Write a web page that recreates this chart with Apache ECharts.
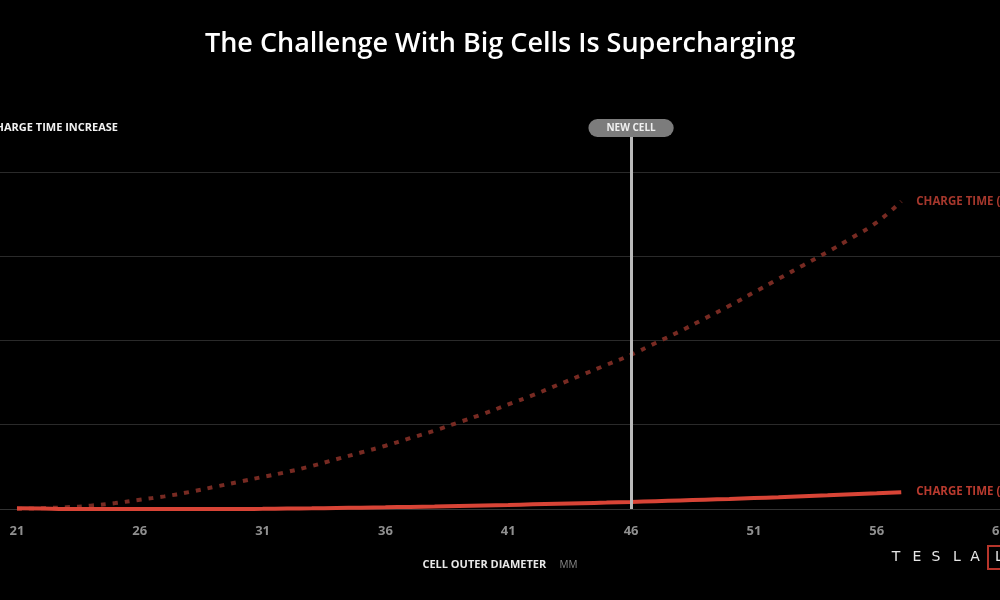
<!DOCTYPE html>
<html>
<head>
<meta charset="utf-8">
<script src="https://cdn.jsdelivr.net/npm/echarts@6/dist/echarts.min.js"></script>
<style>
html,body{margin:0;padding:0;background:#000;}
#chart{width:1000px;height:600px;}
</style>
</head>
<body>
<div id="chart"></div>
<script>
// Cell outer diameter (mm)
var diameters = [21,22,23,24,25,26,27,28,29,30,31,32,33,34,35,36,37,38,39,40,41,42,43,44,45,46,47,48,49,50,51,52,53,54,55,56,57];
// Charge time increase, dotted curve
var chargeTabbed = [0,0.01,0.02,0.04,0.07,0.11,0.15,0.20,0.26,0.32,0.38,0.44,0.51,0.59,0.67,0.75,0.84,0.93,1.03,1.13,1.24,1.35,1.47,1.59,1.71,1.83,1.97,2.11,2.26,2.41,2.57,2.73,2.89,3.05,3.22,3.40,3.65];
// Charge time increase, solid curve
var chargeTabless = [0.01,0.005,0,0,0,0,0,0,0,0,0.002,0.005,0.008,0.012,0.016,0.02,0.025,0.03,0.036,0.042,0.048,0.055,0.062,0.069,0.076,0.084,0.093,0.102,0.111,0.12,0.13,0.14,0.151,0.162,0.174,0.186,0.2];
// X tick labels
var xTicks = [21,26,31,36,41,46,51,56,61];
var newCellDiameter = 46;
var seriesNames = ['CHARGE TIME (TABBED)', 'CHARGE TIME (TABLESS)'];

function pairs(xs, ys){ return xs.map(function(x,i){ return [x, ys[i]]; }); }

var xMin = 21 - 17/24.6;
var xMax = 61.02;

var chart = echarts.init(document.getElementById('chart'), null, {renderer:'canvas'});
chart.setOption({
  backgroundColor: '#000',
  animation: false,
  title: {
    text: 'The Challenge With Big Cells Is Supercharging',
    left: 'center', top: 26,
    textStyle: {color:'#fff', fontSize:27, fontWeight:600, fontFamily:'Open Sans'}
  },
  grid: {left:0, right:0, top:137, bottom:91, containLabel:false, outerBoundsMode:'none'},
  xAxis: {
    type:'value', min:xMin, max:xMax,
    axisLine:{show:true, lineStyle:{color:'#333', width:1}},
    axisTick:{show:false},
    splitLine:{show:false},
    axisLabel:{
      customValues: xTicks,
      color:'#8f8f8f', fontSize:13, fontWeight:'bold', fontFamily:'Open Sans', margin:16
    },
    name:'{a|CELL OUTER DIAMETER}    {b|MM}',
    nameLocation:'middle', nameGap:50,
    nameTextStyle:{
      rich:{
        a:{color:'#e8e8e8', fontSize:11, fontWeight:'bold', fontFamily:'Open Sans'},
        b:{color:'#8a8a8a', fontSize:10, fontWeight:'normal', fontFamily:'Open Sans'}
      }
    }
  },
  yAxis: {
    type:'value', min:0, max:4.413, interval:1,
    axisLine:{show:false}, axisTick:{show:false}, axisLabel:{show:false},
    splitLine:{show:true, showMaxLine:false, lineStyle:{color:'#2a2a2a', width:1}}
  },
  graphic: [
    {type:'text', x:118, y:122, style:{text:'CHARGE TIME INCREASE', align:'right', fill:'#f2f2f2', font:'bold 11px "Open Sans"'}},
    {type:'text', x:896, y:550, style:{text:'T', align:'center', fill:'#e6e6e6', font:'14px "DejaVu Sans"'}},
    {type:'text', x:917, y:550, style:{text:'E', align:'center', fill:'#e6e6e6', font:'14px "DejaVu Sans"'}},
    {type:'text', x:936, y:550, style:{text:'S', align:'center', fill:'#e6e6e6', font:'14px "DejaVu Sans"'}},
    {type:'text', x:957, y:550, style:{text:'L', align:'center', fill:'#e6e6e6', font:'14px "DejaVu Sans"'}},
    {type:'text', x:975, y:550, style:{text:'A', align:'center', fill:'#e6e6e6', font:'14px "DejaVu Sans"'}},
    {type:'rect', shape:{x:988, y:546, width:30, height:23}, style:{fill:'none', stroke:'#b7352b', lineWidth:2}},
    {type:'text', x:995, y:550, style:{text:'L', fill:'#e6e6e6', font:'14px "DejaVu Sans"'}}
  ],
  series: [
    {
      name: seriesNames[0], type:'line', data: pairs(diameters, chargeTabbed),
      showSymbol:false, smooth:true, clip:false,
      lineStyle:{color:'#772a22', width:4, type:[5,7], cap:'butt'},
      endLabel:{show:true, formatter:seriesNames[0], color:'#a5372c', fontSize:11.5, fontWeight:'bold', fontFamily:'Open Sans', distance:15}
    },
    {
      name: seriesNames[1], type:'line', data: pairs(diameters, chargeTabless),
      showSymbol:false, smooth:true, clip:false,
      lineStyle:{color:'#d84436', width:4},
      endLabel:{show:true, formatter:seriesNames[1], color:'#b83a2e', fontSize:11.5, fontWeight:'bold', fontFamily:'Open Sans', distance:15},
      markLine:{
        silent:true, symbol:['none','none'], animation:false,
        lineStyle:{color:'#b9b9b9', width:3, type:'solid'},
        label:{show:true, position:'end', formatter:'NEW CELL', color:'#f0f0f0', fontSize:10, fontWeight:'bold', fontFamily:'Open Sans',
          backgroundColor:'#7c7c7c', borderRadius:9, padding:[4,18,4,18], distance:0},
        data:[{xAxis:newCellDiameter}]
      }
    }
  ]
});
</script>
</body>
</html>
